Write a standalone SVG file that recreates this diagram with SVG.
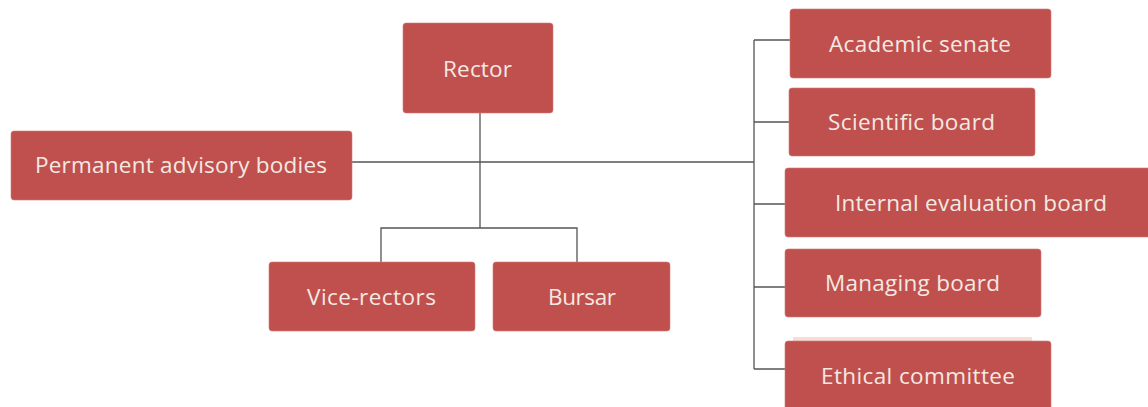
<svg xmlns="http://www.w3.org/2000/svg" width="1148" height="407" viewBox="0 0 1148 407">
<style>
.box{fill:#c0504d;stroke:#d07a77;stroke-width:0.6}
.lbl{font-family:"Open Sans","Liberation Sans",sans-serif;font-size:22.5px;fill:#f3e9e3}
.ln{stroke:#555;stroke-width:1.3;fill:none}
</style>
<rect width="1148" height="407" fill="#fff"/>
<g id="connectors">
<path class="ln" d="M480 113V228M381 262V228H577V262"/>
<path class="ln" d="M352 162H754"/>
<path class="ln" d="M754 40V369M754 40H790M754 122H789M754 204H785M754 287H785M754 369H785"/>
</g>
<g id="rector"><rect class="box" x="403" y="23" width="150" height="90" rx="3"/><text class="lbl" x="443" y="77" textLength="69">Rector</text></g>
<g id="permanent"><rect class="box" x="11" y="131" width="341" height="69" rx="3"/><text class="lbl" x="35" y="173" textLength="292">Permanent advisory bodies</text></g>
<g id="vice-rectors"><rect class="box" x="269" y="262" width="206" height="69" rx="3"/><text class="lbl" x="307" y="305" textLength="129">Vice-rectors</text></g>
<g id="bursar"><rect class="box" x="493" y="262" width="177" height="69" rx="3"/><text class="lbl" x="548" y="305" textLength="68">Bursar</text></g>
<g id="academic-senate"><rect class="box" x="790" y="9" width="261" height="69" rx="3"/><text class="lbl" x="829" y="52" textLength="182">Academic senate</text></g>
<g id="scientific-board"><rect class="box" x="789" y="88" width="246" height="68" rx="3"/><text class="lbl" x="828" y="130" textLength="167">Scientific board</text></g>
<g id="internal-evaluation-board"><rect class="box" x="785" y="168" width="366" height="69" rx="3"/><text class="lbl" x="835" y="211" textLength="272">Internal evaluation board</text></g>
<g id="managing-board"><rect class="box" x="785" y="249" width="256" height="68" rx="3"/><text class="lbl" x="825" y="291" textLength="175">Managing board</text></g>
<g id="ethical-committee"><rect x="793" y="337" width="239" height="6" fill="#f8dcd5"/><rect class="box" x="785" y="341" width="266" height="75" rx="3"/><text class="lbl" x="821" y="384" textLength="194">Ethical committee</text></g>
</svg>
